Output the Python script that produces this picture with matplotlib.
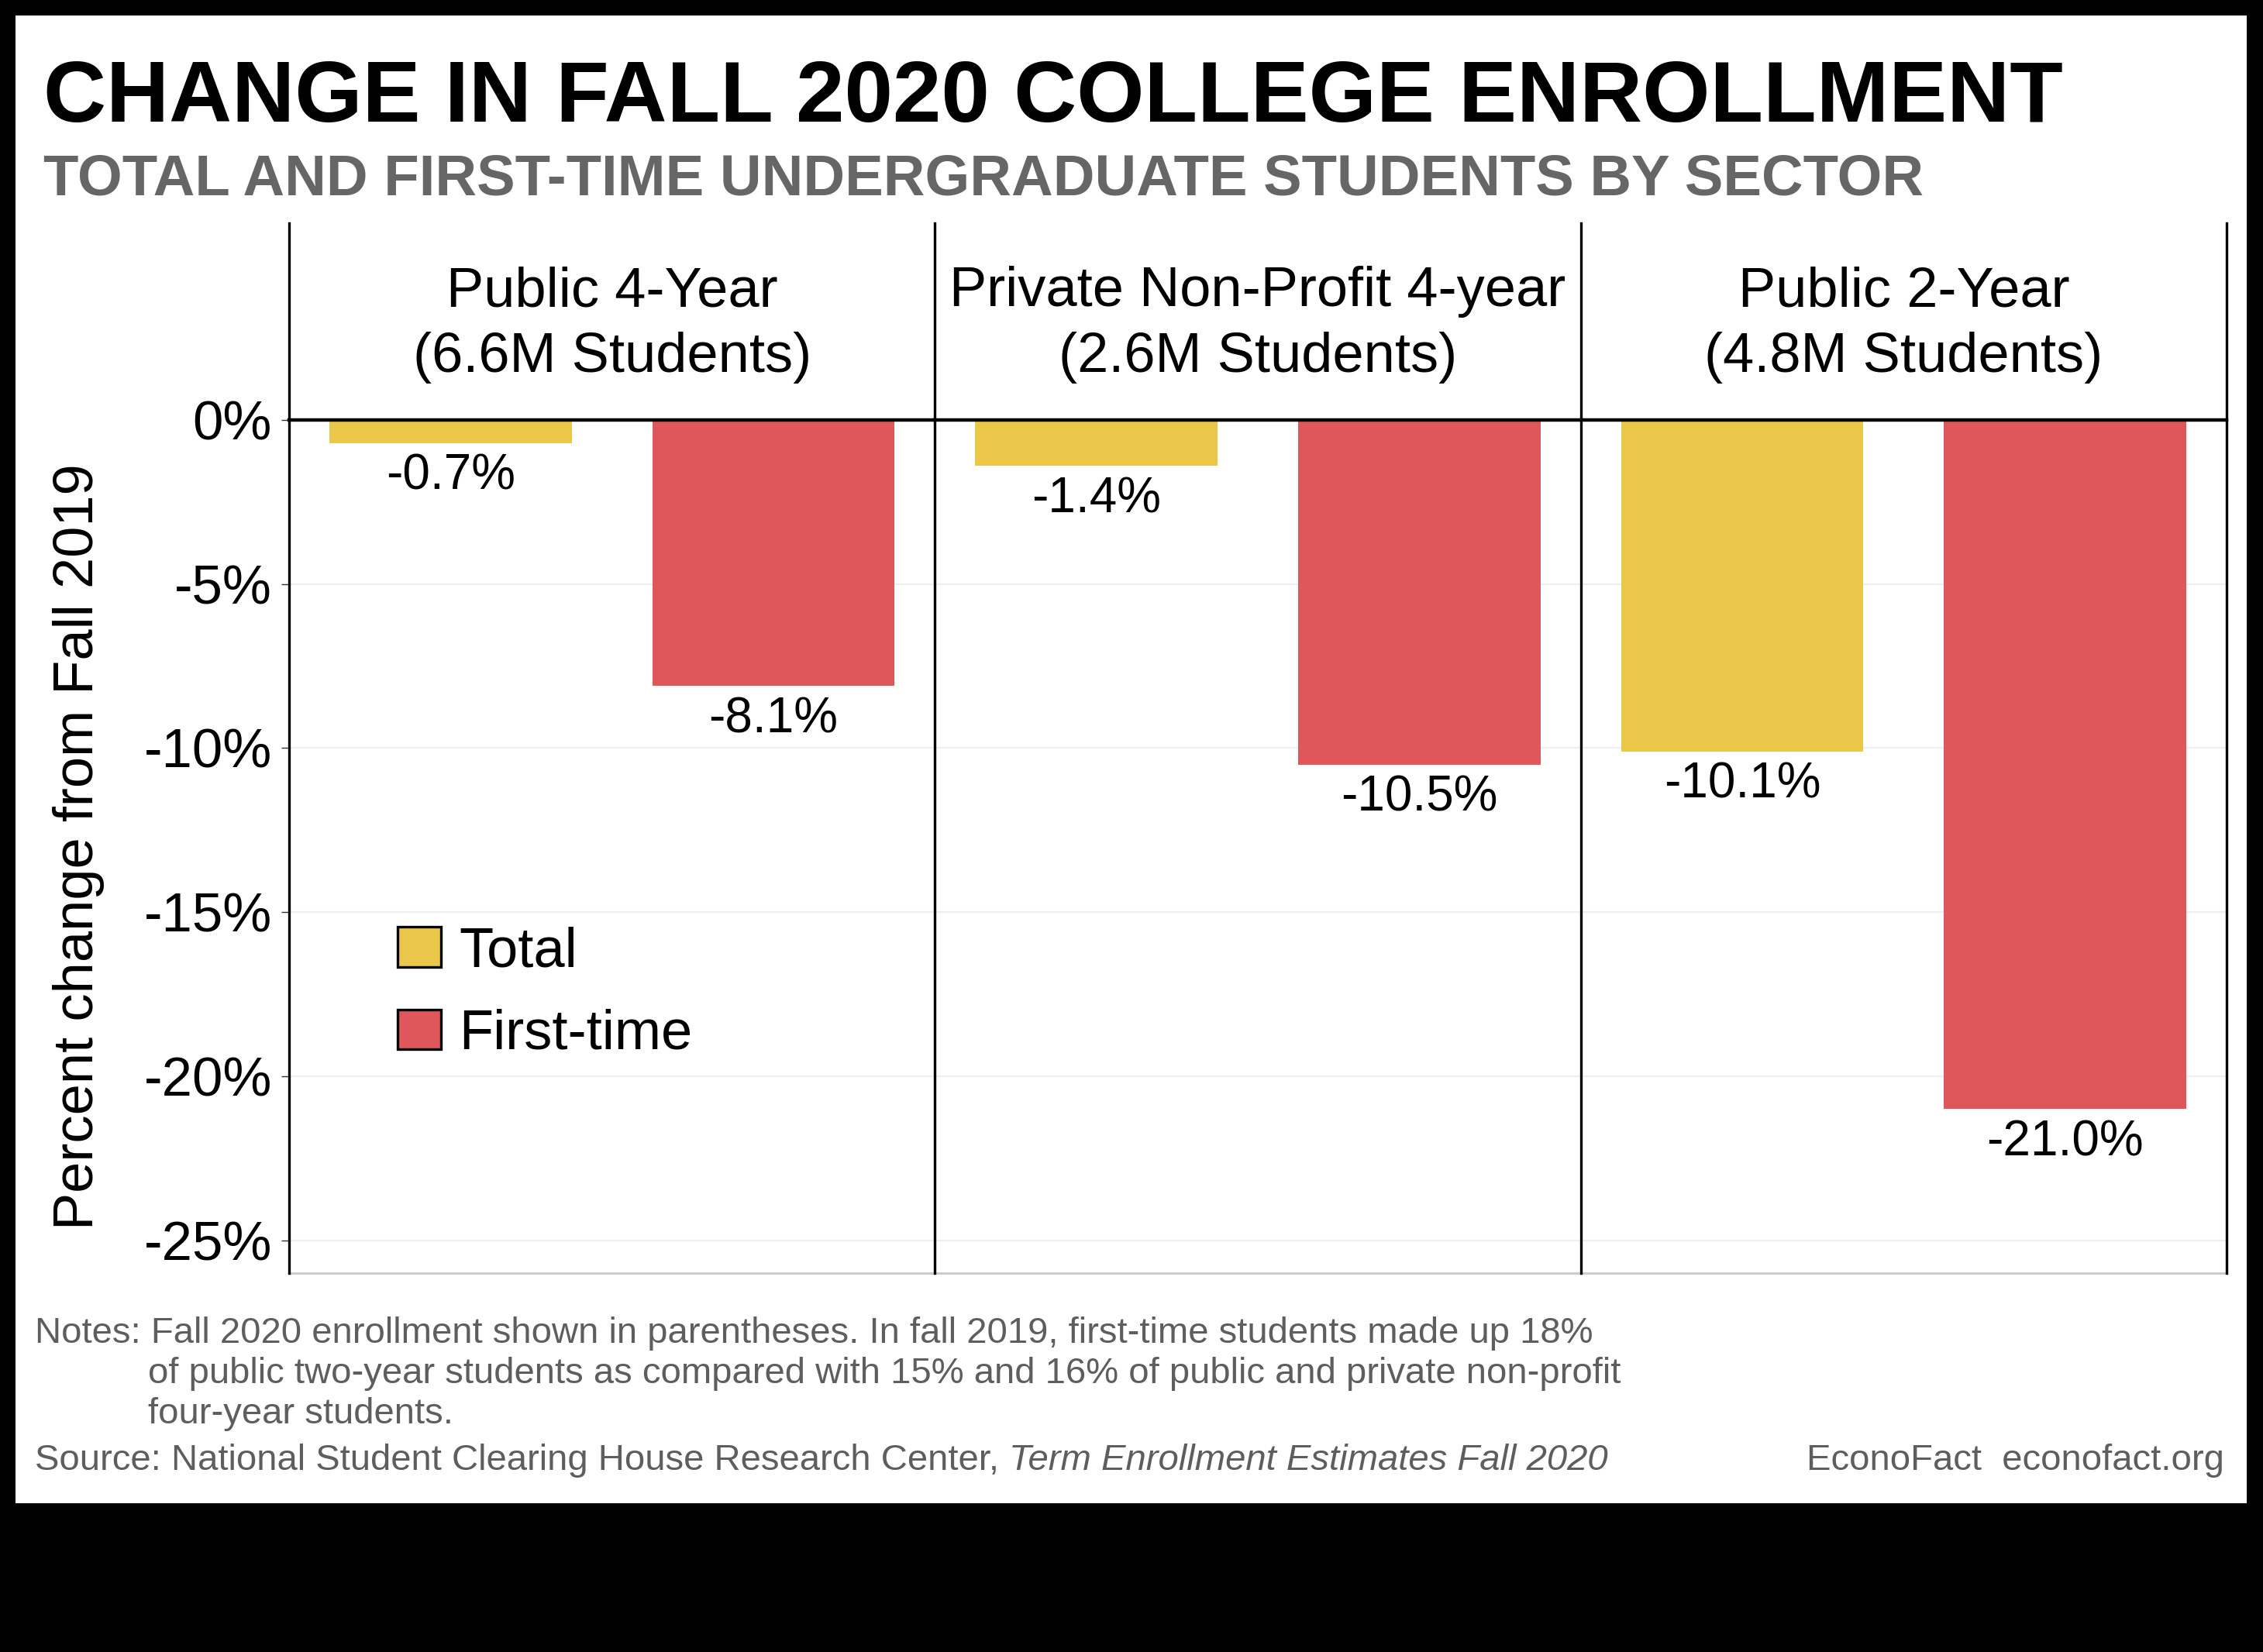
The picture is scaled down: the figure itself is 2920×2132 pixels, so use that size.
import matplotlib.pyplot as plt
from matplotlib.patches import Rectangle, Patch
from matplotlib.lines import Line2D

plt.rcParams['font.family'] = ['Liberation Sans', 'DejaVu Sans']

# data
sectors = ['Public 4-Year', 'Private Non-Profit 4-year', 'Public 2-Year']
enrolled = ['(6.6M Students)', '(2.6M Students)', '(4.8M Students)']
series = ['Total', 'First-time']
total_chg = [-0.7, -1.4, -10.1]
first_chg = [-8.1, -10.5, -21.0]
yticks = [0, -5, -10, -15, -20, -25]
ytick_labels = ['0%', '-5%', '-10%', '-15%', '-20%', '-25%']

YELLOW = '#EAC749'
RED = '#E0575B'
W, H = 2920, 2132

def fx(px):
    return px / W

def fy(py):
    return 1 - py / H

fig = plt.figure(figsize=(W / 200, H / 200), dpi=200, facecolor='black')
fig.patches.append(Rectangle((fx(20), fy(1940)), fx(2899) - fx(20), fy(20) - fy(1940),
                             transform=fig.transFigure, facecolor='white',
                             edgecolor='none', zorder=-10))

# titles
fig.text(fx(56), fy(157), 'CHANGE IN FALL 2020 COLLEGE ENROLLMENT', fontsize=40.4,
         fontweight='bold', color='black', va='baseline')
fig.text(fx(56), fy(251), 'TOTAL AND FIRST-TIME UNDERGRADUATE STUDENTS BY SECTOR',
         fontsize=26.8, fontweight='bold', color='#666666', va='baseline')

# panels
left, right, top, bottom = 373, 2873, 542, 1643
pw = (right - left) / 3
axes = []
for i in range(3):
    x0 = left + i * pw
    ax = fig.add_axes([fx(x0), fy(bottom), pw / W, (bottom - top) / H])
    ax.bar([1, 2], [total_chg[i], first_chg[i]], width=0.75, color=[YELLOW, RED],
           zorder=2)
    for xv, v in zip([1, 2], [total_chg[i], first_chg[i]]):
        ax.annotate(f'{v:.1f}%', xy=(xv, v), xytext=(0, -21.6), textcoords='offset points',
                    ha='center', va='baseline', fontsize=23)
    ax.set_xlim(0.5, 2.5)
    ax.set_ylim(-26, 0)
    ax.set_xticks([])
    ax.set_yticks(yticks)
    ax.yaxis.grid(True, color='#EFEFEF', lw=0.8, zorder=0)
    ax.set_axisbelow(True)
    for s in ax.spines.values():
        s.set_visible(False)
    ax.axhline(0, color='black', lw=1.6, clip_on=False, zorder=3)
    ax.axhline(-26, color='#CCCCCC', lw=1.1, clip_on=False, zorder=3)
    if i == 0:
        ax.set_yticklabels(ytick_labels, fontsize=25.5)
        ax.tick_params(axis='y', length=3.6, width=0.5, pad=4.3, color='#333333')
    else:
        ax.tick_params(axis='y', length=0, labelleft=False)
    cx = x0 + pw / 2
    fig.text(fx(cx), fy(395), sectors[i], fontsize=26, ha='center', va='baseline')
    fig.text(fx(cx), fy(480), enrolled[i], fontsize=26, ha='center', va='baseline')
    axes.append(ax)

for xv in [left, left + pw, left + 2 * pw, right]:
    fig.lines.append(Line2D([fx(xv), fx(xv)], [fy(288), fy(bottom)],
                            transform=fig.transFigure, color='black', lw=1.2))

fig.text(fx(102), fy((top + bottom) / 2), 'Percent change from Fall 2019', fontsize=26,
         rotation=90, ha='center', va='center')

handles = [Patch(facecolor=YELLOW, edgecolor='black', lw=1.2),
           Patch(facecolor=RED, edgecolor='black', lw=1.2)]
axes[0].legend(handles, series, loc='center left', bbox_to_anchor=(fx(513), fy(1282)),
               bbox_transform=fig.transFigure, frameon=False, fontsize=26,
               handlelength=0.78, handleheight=0.72, handletextpad=0.32,
               labelspacing=0.55, borderpad=0, borderaxespad=0)

# footer
GRAY = '#5E5E5E'
FS = 17
fig.text(fx(45), fy(1733), 'Notes: Fall 2020 enrollment shown in parentheses. In fall 2019, '
         'first-time students made up 18%', fontsize=FS, color=GRAY, va='baseline')
fig.text(fx(191), fy(1785), 'of public two-year students as compared with 15% and 16% of '
         'public and private non-profit', fontsize=FS, color=GRAY, va='baseline')
fig.text(fx(191), fy(1837), 'four-year students.', fontsize=FS, color=GRAY, va='baseline')
src = fig.text(fx(45), fy(1897), 'Source: National Student Clearing House Research Center, ',
               fontsize=FS, color=GRAY, va='baseline')
fig.canvas.draw()
w = src.get_window_extent().width
fig.text(fx(45 + w), fy(1897), 'Term Enrollment Estimates Fall 2020', fontsize=FS,
         color=GRAY, style='italic', va='baseline')
fig.text(fx(2870), fy(1897), 'EconoFact  econofact.org', fontsize=FS, color=GRAY,
         ha='right', va='baseline')

plt.savefig('out.png', dpi=200)
